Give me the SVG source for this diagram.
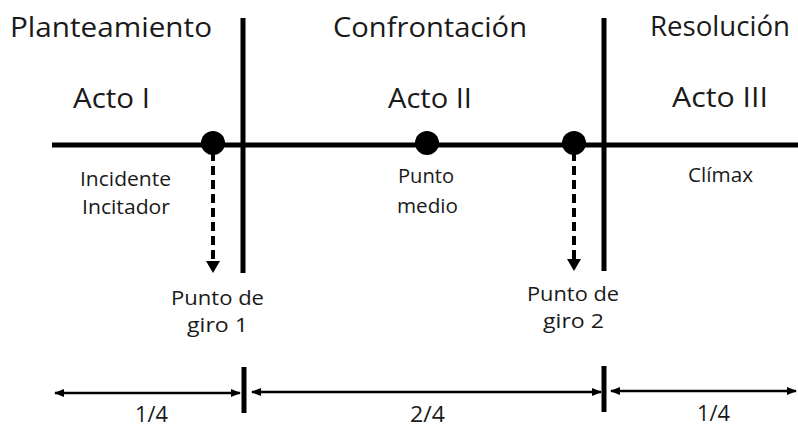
<svg xmlns="http://www.w3.org/2000/svg" width="798" height="428" viewBox="0 0 798 428">
<defs>
<style>
.t{font-family:"Open Sans","Liberation Sans",sans-serif;fill:#1a1a1a;text-anchor:middle}
.h{font-size:28px}
.a{font-size:27px}
.s{font-size:20px}
.f{font-size:22px}
.ln{stroke:#000;stroke-width:5;fill:none}
.dl{stroke:#000;stroke-width:4;stroke-dasharray:9,5;fill:none}
.bl{stroke:#000;stroke-width:2.5;fill:none}
</style>
<marker id="sa" viewBox="0 0 10 10" refX="9" refY="5" markerWidth="4" markerHeight="4" orient="auto-start-reverse"><path d="M0,1 L10,5 L0,9 z" fill="#000"/></marker>
</defs>
<rect width="798" height="428" fill="#fff"/>
<g id="connectors">
<line class="ln" x1="52" y1="145" x2="798" y2="145"/>
<line class="ln" x1="243" y1="18" x2="243" y2="273"/>
<line class="ln" x1="604" y1="18" x2="604" y2="271"/>
<line class="dl" x1="213" y1="152" x2="213" y2="262"/>
<path d="M206,261 L220,261 L213,273 z" fill="#000"/>
<line class="dl" x1="574" y1="152" x2="574" y2="260"/>
<path d="M567,259 L581,259 L574,271 z" fill="#000"/>
<line class="ln" x1="244" y1="367" x2="244" y2="413"/>
<line class="ln" x1="604" y1="366" x2="604" y2="412"/>
<line class="bl" x1="55" y1="393" x2="240" y2="393" marker-start="url(#sa)" marker-end="url(#sa)"/>
<line class="bl" x1="252" y1="392" x2="601" y2="392" marker-start="url(#sa)" marker-end="url(#sa)"/>
<line class="bl" x1="611" y1="391" x2="796" y2="391" marker-start="url(#sa)" marker-end="url(#sa)"/>
</g>
<g id="dot1"><circle cx="213" cy="143" r="12" fill="#000"/></g>
<g id="dot2"><circle cx="427" cy="143" r="12" fill="#000"/></g>
<g id="dot3"><circle cx="574" cy="143" r="12" fill="#000"/></g>
<g id="headers">
<text class="t h" x="111" y="37" textLength="202" lengthAdjust="spacingAndGlyphs">Planteamiento</text>
<text class="t h" x="430" y="37" textLength="194" lengthAdjust="spacingAndGlyphs">Confrontación</text>
<text class="t h" x="720" y="36" textLength="140" lengthAdjust="spacingAndGlyphs">Resolución</text>
</g>
<g id="acts">
<text class="t a" x="111.5" y="108" textLength="77" lengthAdjust="spacingAndGlyphs">Acto I</text>
<text class="t a" x="430" y="108" textLength="84" lengthAdjust="spacingAndGlyphs">Acto II</text>
<text class="t a" x="720" y="107" textLength="96" lengthAdjust="spacingAndGlyphs">Acto III</text>
</g>
<g id="labels">
<text class="t s" x="125.5" y="186" textLength="91" lengthAdjust="spacingAndGlyphs">Incidente</text>
<text class="t s" x="126" y="214" textLength="88" lengthAdjust="spacingAndGlyphs">Incitador</text>
<text class="t s" x="426" y="183" textLength="56" lengthAdjust="spacingAndGlyphs">Punto</text>
<text class="t s" x="427.5" y="213" textLength="61" lengthAdjust="spacingAndGlyphs">medio</text>
<text class="t s" x="720.5" y="182" textLength="65" lengthAdjust="spacingAndGlyphs">Clímax</text>
<text class="t s" x="217.5" y="305" textLength="93" lengthAdjust="spacingAndGlyphs">Punto de</text>
<text class="t s" x="217.5" y="332" textLength="61" lengthAdjust="spacingAndGlyphs">giro 1</text>
<text class="t s" x="573" y="301" textLength="92" lengthAdjust="spacingAndGlyphs">Punto de</text>
<text class="t s" x="573.5" y="328" textLength="61" lengthAdjust="spacingAndGlyphs">giro 2</text>
</g>
<g id="fractions">
<text class="t f" x="151.5" y="422" textLength="33" lengthAdjust="spacingAndGlyphs">1/4</text>
<text class="t f" x="427.5" y="422" textLength="35" lengthAdjust="spacingAndGlyphs">2/4</text>
<text class="t f" x="713.5" y="421" textLength="33" lengthAdjust="spacingAndGlyphs">1/4</text>
</g>
</svg>
